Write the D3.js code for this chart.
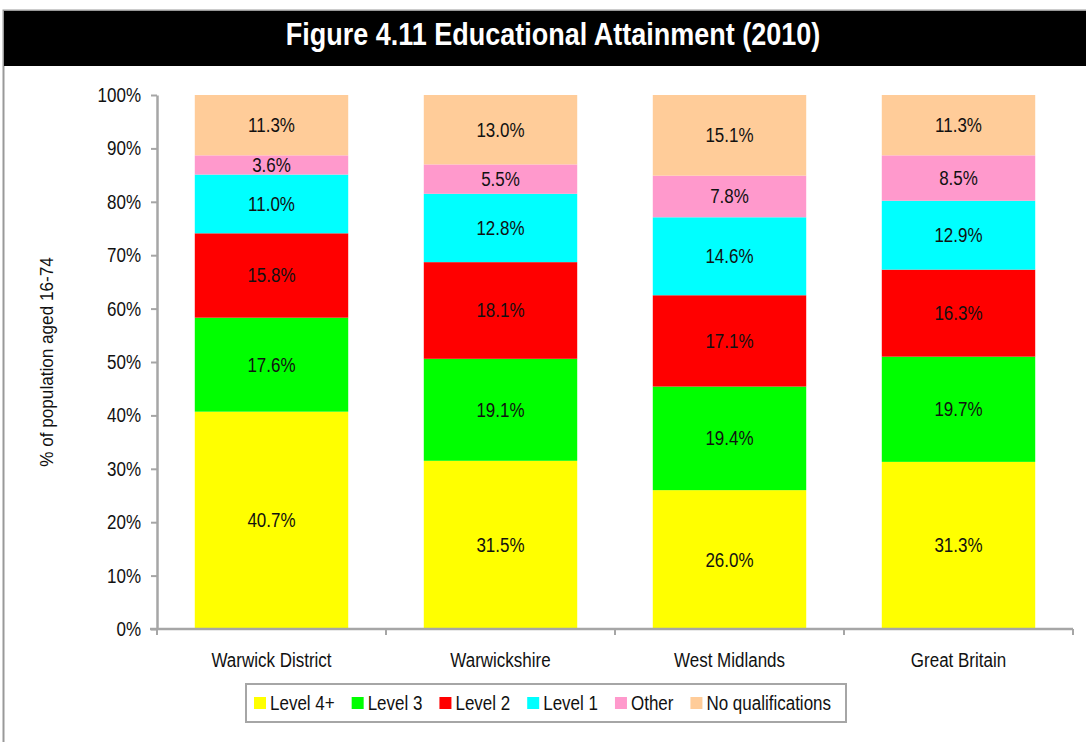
<!DOCTYPE html>
<html>
<head>
<meta charset="utf-8">
<script src="https://d3js.org/d3.v7.min.js"></script>
<style>
  body { margin: 0; background: #fff; }
  svg text { font-family: "Liberation Sans Narrow", "Arial Narrow", "Liberation Sans", Arial, sans-serif; fill: #111; }
</style>
</head>
<body>
<div id="chart"></div>
<script>
// data
var categories = ["Warwick District", "Warwickshire", "West Midlands", "Great Britain"];
var seriesNames = ["Level 4+", "Level 3", "Level 2", "Level 1", "Other", "No qualifications"];
var colors = ["#ffff00", "#00ff00", "#ff0000", "#00ffff", "#ff99cc", "#ffcc99"];
var level4 = [40.7, 31.5, 26.0, 31.3];
var level3 = [17.6, 19.1, 19.4, 19.7];
var level2 = [15.8, 18.1, 17.1, 16.3];
var level1 = [11.0, 12.8, 14.6, 12.9];
var other = [3.6, 5.5, 7.8, 8.5];
var noQual = [11.3, 13.0, 15.1, 11.3];
var yTicks = [0, 10, 20, 30, 40, 50, 60, 70, 80, 90, 100];

var W = 1086, H = 742;
var stretch = 1.15; // the original text looks a bit taller than wide
var svg = d3.select("#chart").append("svg").attr("width", W).attr("height", H);

// little helper: text drawn slightly stretched vertically
function label(parent, x, y, str, size, anchor) {
  return parent.append("text")
    .attr("transform", "translate(" + x + "," + y + ") scale(1," + stretch + ")")
    .attr("text-anchor", anchor || "start")
    .style("font-size", size + "px")
    .text(str);
}

// frame + title bar
svg.append("rect").attr("x", 3.5).attr("y", 10.5).attr("width", W).attr("height", H)
  .attr("fill", "#fff").attr("stroke", "#999").attr("stroke-width", 2);
svg.append("rect").attr("x", 4).attr("y", 11).attr("width", W).attr("height", 55).attr("fill", "#000");
label(svg, 553, 45, "Figure 4.11 Educational Attainment (2010)", 27, "middle")
  .style("font-family", "'Liberation Sans', Arial, sans-serif")
  .style("font-weight", "bold").style("fill", "#fff");

var rows = categories.map(function (c, i) {
  return { cat: c, "Level 4+": level4[i], "Level 3": level3[i], "Level 2": level2[i],
           "Level 1": level1[i], "Other": other[i], "No qualifications": noQual[i] };
});
var stack = d3.stack().keys(seriesNames)(rows);

var x = d3.scaleBand().domain(categories).range([157, 1073]).paddingInner(0.33).paddingOuter(0.165);
var y = d3.scaleLinear().domain([0, 100]).range([629, 95]);
var color = d3.scaleOrdinal().domain(seriesNames).range(colors);

var g = svg.append("g");
var layer = g.selectAll("g.layer").data(stack).enter().append("g").attr("class", "layer")
  .attr("fill", function (d) { return color(d.key); });
layer.selectAll("rect").data(function (d) { return d; }).enter().append("rect")
  .attr("x", function (d) { return x(d.data.cat); })
  .attr("width", x.bandwidth())
  .attr("y", function (d) { return y(d[1]); })
  .attr("height", function (d) { return y(d[0]) - y(d[1]); });
stack.forEach(function (s) {
  s.forEach(function (d) {
    label(g, x(d.data.cat) + x.bandwidth() / 2, (y(d[0]) + y(d[1])) / 2 + 7,
      (d[1] - d[0]).toFixed(1) + "%", 17, "middle");
  });
});

// y axis
var yAxis = g.append("g").attr("transform", "translate(157,0)")
  .call(d3.axisLeft(y).tickValues(yTicks).tickSize(6).tickSizeOuter(0).tickFormat(""));
yAxis.select(".domain").attr("stroke", "#a6a6a6").attr("stroke-width", 2.5);
yAxis.selectAll(".tick line").attr("stroke", "#a6a6a6").attr("stroke-width", 2);
yTicks.forEach(function (t) {
  label(g, 141, y(t) + 7, t + "%", 17, "end");
});

// x axis
var xAxisG = g.append("g").attr("transform", "translate(0,629)");
xAxisG.append("line").attr("x1", 150).attr("x2", 1073).attr("y1", 0).attr("y2", 0)
  .attr("stroke", "#a6a6a6").attr("stroke-width", 2.5);
var bounds = categories.map(function (c) { return x(c) - x.step() * x.paddingInner() / 2; });
bounds.push(1073);
xAxisG.selectAll("line.tk").data(bounds).enter().append("line").attr("class", "tk")
  .attr("x1", function (d) { return d; }).attr("x2", function (d) { return d; })
  .attr("y1", 0).attr("y2", 6).attr("stroke", "#a6a6a6").attr("stroke-width", 2);
categories.forEach(function (c) {
  label(xAxisG, x(c) + x.bandwidth() / 2, 38, c, 17, "middle");
});

// y label
svg.append("text").attr("transform", "translate(53,362) rotate(-90) scale(1.07,1.1)").attr("text-anchor", "middle")
  .style("font-size", "16px").text("% of population aged 16-74");

// legend
var lg = svg.append("g");
lg.append("rect").attr("x", 246).attr("y", 684).attr("width", 600).attr("height", 38)
  .attr("fill", "#fff").attr("stroke", "#a6a6a6").attr("stroke-width", 2);
var lx = 254;
seriesNames.forEach(function (s) {
  lg.append("rect").attr("x", lx).attr("y", 697).attr("width", 12).attr("height", 12).attr("fill", color(s));
  var t = label(lg, lx + 16, 710, s, 17, "start");
  lx += 16 + t.node().getComputedTextLength() + 17;
});
</script>
</body>
</html>
